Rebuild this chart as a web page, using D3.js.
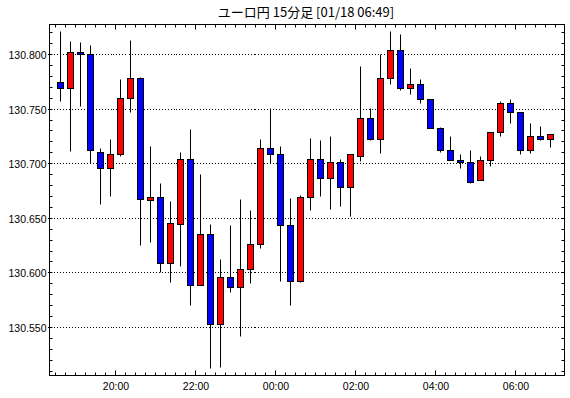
<!DOCTYPE html>
<html>
<head>
<meta charset="utf-8">
<script src="https://cdn.jsdelivr.net/npm/d3@7"></script>
<style>
	html, body { margin:0; padding:0; background:#fff; }
	svg { display:block; }
</style>
</head>
<body>
<div id="chart"></div>
<script>
// 15分足 ユーロ円, 18:30 .. 06:45
var title = 'ユーロ円 15分足 [01/18 06:49]';
var startTime = new Date(2021, 0, 17, 18, 30);
var open  = [130.774,130.769,130.802,130.800,130.710,130.696,130.708,130.760,130.778,130.666,
             130.669,130.609,130.644,130.704,130.588,130.635,130.553,130.596,130.587,130.603,
             130.626,130.714,130.708,130.643,130.592,130.669,130.704,130.686,130.701,130.678,
             130.707,130.741,130.722,130.778,130.804,130.769,130.773,130.759,130.732,130.712,
             130.703,130.701,130.685,130.703,130.729,130.755,130.747,130.712,130.725,130.722];
var high  = [130.821,130.812,130.811,130.808,130.714,130.722,130.777,130.813,130.779,130.716,
             130.682,130.665,130.710,130.731,130.690,130.644,130.612,130.643,130.667,130.657,
             130.722,130.751,130.716,130.668,130.671,130.723,130.721,130.725,130.704,130.708,
             130.789,130.751,130.800,130.821,130.818,130.787,130.777,130.759,130.733,130.725,
             130.708,130.712,130.707,130.729,130.757,130.759,130.747,130.737,130.734,130.727];
var low   = [130.757,130.711,130.752,130.700,130.663,130.670,130.707,130.747,130.625,130.628,
             130.600,130.591,130.606,130.570,130.588,130.512,130.513,130.582,130.542,130.590,
             130.622,130.700,130.592,130.570,130.591,130.657,130.670,130.658,130.661,130.652,
             130.702,130.721,130.709,130.773,130.767,130.763,130.755,130.732,130.710,130.703,
             130.696,130.682,130.685,130.697,130.725,130.737,130.708,130.709,130.721,130.715];
var close = [130.769,130.802,130.800,130.712,130.696,130.708,130.760,130.778,130.667,130.669,
             130.609,130.645,130.704,130.588,130.635,130.553,130.596,130.587,130.603,130.626,
             130.714,130.708,130.643,130.592,130.669,130.704,130.686,130.701,130.678,130.708,
             130.741,130.722,130.778,130.804,130.769,130.773,130.759,130.732,130.712,130.703,
             130.701,130.683,130.703,130.729,130.755,130.747,130.712,130.725,130.722,130.727];
var gridLevels = [130.550,130.600,130.650,130.700,130.750,130.800];
var xTickHours = ['20:00','22:00','00:00','02:00','04:00','06:00'];

(function(){
	var W = 570, H = 398
		, left = 49.5, right = 564.5, top = 24.5, bottom = 375.5
		, step = 15*60*1000;

	var candles = open.map(function(o, i){
		return {t:new Date(+startTime + i*step), o:o, h:high[i], l:low[i], c:close[i]};
	});

	var x = d3.scaleTime()
		.domain([new Date(+startTime - 0.6*step), new Date(+startTime + 50.9*step)])
		.range([left, right]);
	var y = d3.scaleLinear()
		.domain([130.506, 130.8275])
		.range([bottom, top]);
	var py = function(v){ return Math.round(y(v) - 0.5) + 0.5; };

	var svg = d3.select('#chart').append('svg')
		.attr('width', W).attr('height', H);

	svg.append('text')
		.attr('x', 306).attr('y', 17)
		.attr('text-anchor', 'middle')
		.attr('font-family', '"Noto Sans CJK JP", sans-serif')
		.attr('font-size', 13)
		.attr('fill', '#000')
		.text(title);

	// dotted grid
	svg.append('g').selectAll('line').data(gridLevels).enter().append('line')
		.attr('x1', left - 2).attr('x2', right)
		.attr('y1', py).attr('y2', py)
		.attr('stroke', '#000').attr('stroke-width', 1)
		.attr('shape-rendering', 'crispEdges')
		.attr('stroke-dasharray', '1,2');

	// y labels
	svg.append('g').selectAll('text').data(gridLevels).enter().append('text')
		.attr('x', 46.5).attr('y', function(d){ return py(d) + 4; })
		.attr('text-anchor', 'end')
		.attr('font-family', '"Liberation Sans", Arial, sans-serif')
		.attr('font-size', 10.5)
		.attr('fill', '#000')
		.text(function(d){ return d3.format('.3f')(d); });

	// y minor ticks every 0.010, both sides
	var yt = d3.range(130.51, 130.8275, 0.01);
	var ticks = svg.append('g').attr('stroke', '#000').attr('stroke-width', 1);
	yt.forEach(function(v){
		ticks.append('line').attr('x1', left).attr('x2', left + 3).attr('y1', py(v)).attr('y2', py(v));
		ticks.append('line').attr('x1', right - 3).attr('x2', right).attr('y1', py(v)).attr('y2', py(v));
	});

	// x ticks every 15 min, longer on even hours
	var xt = x.ticks(d3.timeMinute.every(15));
	xt.forEach(function(t){
		var xx = Math.round(x(t) - 0.5) + 0.5
			, major = t.getMinutes() === 0 && t.getHours() % 2 === 0
			, len = major ? 5 : 3;
		ticks.append('line').attr('x1', xx).attr('x2', xx).attr('y1', bottom - len).attr('y2', bottom);
		ticks.append('line').attr('x1', xx).attr('x2', xx).attr('y1', top).attr('y2', top + len);
	});
	var fmt = d3.timeFormat('%H:%M');
	svg.append('g').selectAll('text')
		.data(xt.filter(function(t){ return xTickHours.indexOf(fmt(t)) >= 0; }))
		.enter().append('text')
		.attr('x', function(t){ return Math.round(x(t)); })
		.attr('y', 390)
		.attr('text-anchor', 'middle')
		.attr('font-family', '"Liberation Sans", Arial, sans-serif')
		.attr('font-size', 10.5)
		.attr('fill', '#000')
		.text(fmt);

	// candles
	var cx = function(d){ return Math.round(x(d.t) + 5 - 0.5) + 0.5; };
	var g = svg.append('g').selectAll('g').data(candles).enter().append('g');
	g.append('line')
		.attr('x1', cx).attr('x2', cx)
		.attr('y1', function(d){ return py(d.h); })
		.attr('y2', function(d){ return py(d.l); })
		.attr('stroke', '#000').attr('stroke-width', 1);
	g.append('rect')
		.attr('x', function(d){ return cx(d) - 3; })
		.attr('width', 6)
		.attr('y', function(d){ return py(Math.max(d.o, d.c)); })
		.attr('height', function(d){ return Math.max(1, py(Math.min(d.o, d.c)) - py(Math.max(d.o, d.c))); })
		.attr('fill', function(d){ return d.c >= d.o ? '#ff0000' : '#0000ff'; })
		.attr('stroke', '#000').attr('stroke-width', 1);

	// frame
	svg.append('rect')
		.attr('x', left).attr('y', top)
		.attr('width', right - left).attr('height', bottom - top)
		.attr('fill', 'none').attr('stroke', '#000').attr('stroke-width', 1);
})();
</script>
</body>
</html>
